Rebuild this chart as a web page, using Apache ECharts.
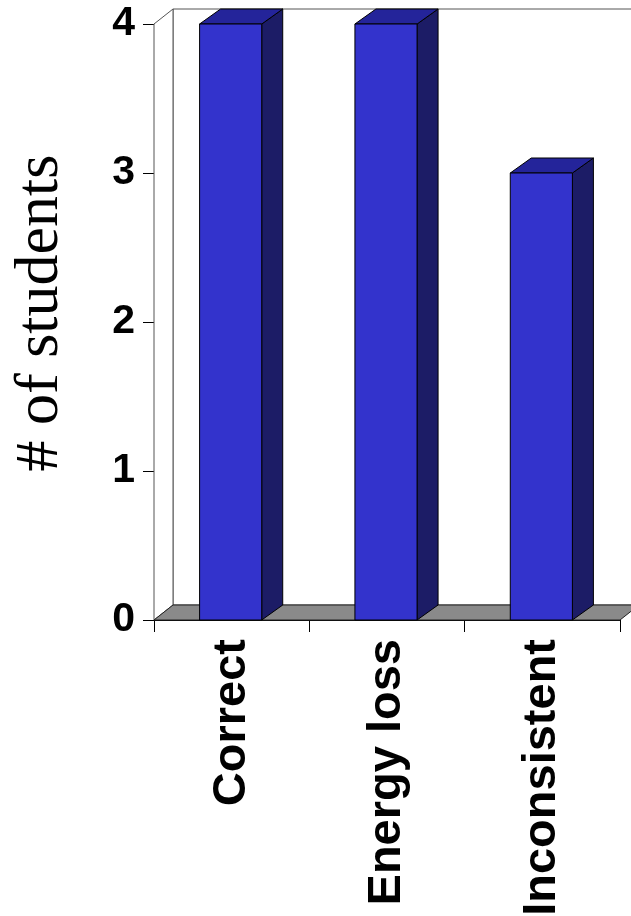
<!DOCTYPE html>
<html>
<head>
<meta charset="utf-8">
<script src="https://cdn.jsdelivr.net/npm/echarts@6/dist/echarts.min.js"></script>
<style>
  html, body { margin: 0; padding: 0; background: #ffffff; }
  #chart { width: 631px; height: 916px; }
</style>
</head>
<body>
<div id="chart"></div>
<script>
// Answer categories and how many students gave each answer
const categories = ['Correct', 'Energy loss', 'Inconsistent'];
const students = [4, 4, 3];
const yMin = 0, yMax = 4, yStep = 1;

// Depth offsets of the 3D box (pixels)
const WALL_DX = 19, WALL_DY = 15;
const BAR_DX = 21, BAR_DY = 15;

const chart = echarts.init(document.getElementById('chart'), null, { renderer: 'canvas' });

// Floor, side wall and back wall of the 3D plot area
function renderWalls(params, api) {
  const cs = params.coordSys;
  const x = cs.x, y = cs.y, w = cs.width, h = cs.height;
  return {
    type: 'group',
    children: [
      {
        type: 'rect',
        shape: { x: x + WALL_DX, y: y - WALL_DY, width: w, height: h },
        style: { fill: '#ffffff', stroke: '#555555', lineWidth: 1 }
      },
      {
        type: 'polygon',
        shape: { points: [[x, y], [x + WALL_DX, y - WALL_DY], [x + WALL_DX, y + h - WALL_DY], [x, y + h]] },
        style: { fill: '#ffffff', stroke: '#555555', lineWidth: 1 }
      },
      {
        type: 'polygon',
        shape: { points: [[x, y + h], [x + w, y + h], [x + w + WALL_DX, y + h - WALL_DY], [x + WALL_DX, y + h - WALL_DY]] },
        style: { fill: '#8a8a8a', stroke: '#222222', lineWidth: 1 }
      }
    ]
  };
}

// One 3D bar: right side, top and front face
function renderBar(params, api) {
  const idx = api.value(0);
  const v = api.value(1);
  const top = api.coord([idx, v]);
  const base = api.coord([idx, 0]);
  const bw = api.size([1, 0])[0] * 0.4;
  const x0 = top[0] - bw / 2 - 1;
  const x1 = x0 + bw;
  const yt = top[1], yb = base[1];
  const line = { stroke: '#000000', lineWidth: 1, lineJoin: 'miter' };
  return {
    type: 'group',
    children: [
      {
        type: 'polygon',
        shape: { points: [[x1, yt], [x1 + BAR_DX, yt - BAR_DY], [x1 + BAR_DX, yb - BAR_DY], [x1, yb]] },
        style: Object.assign({ fill: '#1c1c66' }, line)
      },
      {
        type: 'polygon',
        shape: { points: [[x0, yt], [x0 + BAR_DX, yt - BAR_DY], [x1 + BAR_DX, yt - BAR_DY], [x1, yt]] },
        style: Object.assign({ fill: '#24249a' }, line)
      },
      {
        type: 'rect',
        shape: { x: x0, y: yt, width: bw, height: yb - yt },
        style: Object.assign({ fill: '#3333cc' }, line)
      }
    ]
  };
}

chart.setOption({
  animation: false,
  backgroundColor: '#ffffff',
  grid: { left: 154, right: 11, top: 24, bottom: 296, containLabel: false, outerBoundsMode: 'none' },
  xAxis: {
    type: 'category',
    data: categories,
    boundaryGap: true,
    axisLine: { show: true, lineStyle: { color: '#000000', width: 1 } },
    axisTick: { show: true, length: 12, alignWithLabel: false, lineStyle: { color: '#000000' } },
    axisLabel: {
      interval: 0,
      rotate: 90,
      margin: 19,
      color: '#000000',
      fontFamily: 'Liberation Sans, Arial, sans-serif',
      fontWeight: 'bold',
      fontSize: 47
    },
    splitLine: { show: false }
  },
  yAxis: {
    type: 'value',
    min: yMin,
    max: yMax,
    interval: yStep,
    name: '# of students',
    nameLocation: 'middle',
    nameRotate: 90,
    nameGap: 82,
    nameTextStyle: {
      color: '#000000',
      fontFamily: 'Liberation Serif, Times New Roman, serif',
      fontSize: 62,
      padding: [0, 0, 0, 18]
    },
    axisLine: { show: true, lineStyle: { color: '#000000', width: 1 } },
    axisTick: { show: true, length: 11, lineStyle: { color: '#000000' } },
    axisLabel: {
      margin: 19,
      color: '#000000',
      fontFamily: 'Liberation Sans, Arial, sans-serif',
      fontWeight: 'bold',
      fontSize: 41
    },
    splitLine: { show: false }
  },
  series: [
    {
      type: 'custom',
      renderItem: renderWalls,
      data: [[0, 0]],
      encode: { x: 0, y: 1 },
      z: 1,
      silent: true
    },
    {
      type: 'custom',
      renderItem: renderBar,
      data: students.map((v, i) => [i, v]),
      encode: { x: 0, y: 1 },
      z: 2
    }
  ]
});
</script>
</body>
</html>
